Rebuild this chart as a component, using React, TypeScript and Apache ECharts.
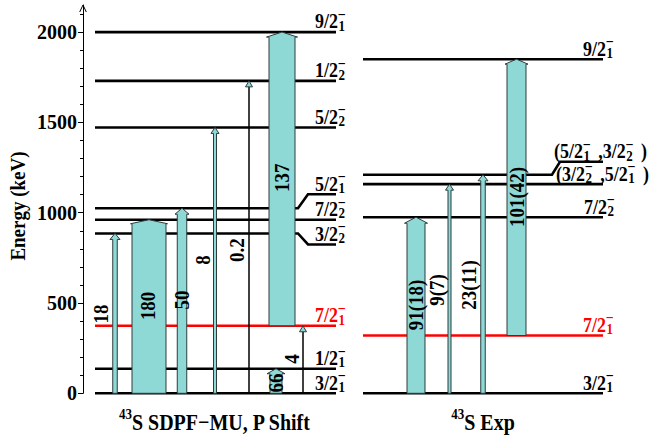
import React, { useEffect, useRef } from 'react';
import * as echarts from 'echarts';

// ---------------- data ----------------
const yTicks = [0, 500, 1000, 1500, 2000];

// theory panel (43S SDPF-MU, P shift)
const leftLevelEnergy = [0, 136, 374, 885, 961, 1025, 1472, 1730, 2000];
const leftLevelLabel = ['3/2_1', '1/2_1', '7/2_1', '3/2_2', '7/2_2', '5/2_1', '5/2_2', '1/2_2', '9/2_1'];
const leftBE2 = ['18', '180', '50', '8', '0.2', '137', '66', '4'];
const leftFrom = [0, 0, 0, 0, 0, 374, 0, 0];
const leftTo = [885, 961, 1025, 1472, 1730, 2000, 136, 374];

// experiment panel (43S Exp)
const rightLevelEnergy = [0, 320, 975, 1158, 1210, 1850];
const rightLevelLabel = ['3/2_1', '7/2_1', '7/2_2', '(3/2_2 ,5/2_1 )', '(5/2_1 ,3/2_2 )', '9/2_1'];
const rightBE2 = ['91(18)', '9(7)', '23(11)', '101(42)'];
const rightFrom = [0, 0, 0, 320];
const rightTo = [975, 1158, 1210, 1850];

const titleMass = '43';
const panelTitles = ['S SDPF−MU, P Shift', 'S Exp'];
const yTitle = 'Energy (keV)';

// ---------------- layout / style ----------------
const FF = 'Liberation Serif';
const TEAL = '#8ed8d6';
const EDGE = '#2c3c3c';
const panelX = [[95, 336], [363, 603]];
const elbowX = [[298, 308], [552, 560]];
const labelStart = [
  [315, 315, 315, 315, 315, 315, 315, 315, 315],
  [583, 583, 584, 556, 554, 583],
];
const levelShift = [
  [0, 0, 0, 11, 0, -14, 0, 0, 0],
  [0, 0, 0, 0, -13, 0],
];
const leftArrowLayout = [
  { x: 115, w: 4.5, headW: 10, headH: 6, kind: 'bar', lx: 101, le: 439 },
  { x: 149, w: 34, headW: 37, headH: 4, kind: 'bar', lx: 148, le: 484 },
  { x: 182, w: 9.5, headW: 14, headH: 6, kind: 'bar', lx: 182, le: 517 },
  { x: 215, w: 3, headW: 8, headH: 6, kind: 'bar', lx: 203, le: 738 },
  { x: 249, w: 1.5, headW: 7, headH: 6, kind: 'line', lx: 237, le: 793 },
  { x: 282, w: 26, headW: 31, headH: 5, kind: 'bar', lx: 282, le: 1193 },
  { x: 276, w: 12, headW: 18, headH: 5, kind: 'bar', lx: 276, le: 57 },
  { x: 303, w: 1.5, headW: 7, headH: 6, kind: 'line', lx: 292, le: 190 },
];
const rightArrowLayout = [
  { x: 416, w: 18, headW: 23, headH: 6, kind: 'bar', lx: 416, le: 489 },
  { x: 449.5, w: 3, headW: 8, headH: 6, kind: 'bar', lx: 437, le: 572 },
  { x: 483, w: 4.5, headW: 10, headH: 6, kind: 'bar', lx: 469, le: 600 },
  { x: 516.5, w: 19, headW: 23, headH: 5, kind: 'bar', lx: 516.5, le: 1087 },
];

const levelEnergy = [leftLevelEnergy, rightLevelEnergy];
const levelLabel = [leftLevelLabel, rightLevelLabel];
const arrowLabel = [leftBE2, rightBE2];
const arrowLayout = [leftArrowLayout, rightArrowLayout];

// ---------------- helpers ----------------
let measureCtx: CanvasRenderingContext2D | null = null;
function measure(text: string, size: number): number {
  if (!measureCtx) measureCtx = document.createElement('canvas').getContext('2d');
  measureCtx!.font = `bold ${size}px "${FF}"`;
  return measureCtx!.measureText(text).width;
}

function txtEl(text: string, x: number, y: number, size: number, color: string, opts: any = {}) {
  return {
    type: 'text',
    x,
    y,
    rotation: opts.rotation || 0,
    scaleY: opts.sy ?? 1.12,
    z2: 20,
    style: {
      text,
      x: 0,
      y: 0,
      fontFamily: FF,
      fontWeight: 'bold',
      fontSize: size,
      fill: color,
      align: opts.align || 'left',
      verticalAlign: 'middle',
    },
  };
}

function levelLabelEls(spec: string, x: number, yLine: number, color: string) {
  const parts = spec.split(/_(\d)/);
  const out: any[] = [];
  let cx = x;
  parts.forEach((p, k) => {
    if (k % 2 === 0) {
      if (!p) return;
      const lead = (p.match(/^ */) || [''])[0].length;
      cx += lead * measure(' ', 18) * 1.5;
      const t = p.trim();
      if (t) {
        out.push(txtEl(t, cx, yLine - 10.5, 18, color));
        cx += measure(t, 18);
      }
    } else {
      const w = measure(p, 13);
      out.push(txtEl(p, cx + 0.5, yLine - 6, 13, color));
      out.push(txtEl('−', cx + 0.5 + w / 2, yLine - 17.5, 14, color, { align: 'center' }));
      cx += w + 2;
    }
  });
  return out;
}

function titleEls(sup: string, main: string, cx: number, cy: number) {
  const supW = measure(sup, 13);
  const mainW = measure(main, 20);
  const x0 = cx - (supW + mainW) / 2;
  return [
    txtEl(sup, x0, cy - 8, 13, '#000', { sy: 1.1 }),
    txtEl(main, x0 + supW, cy, 20, '#000', { sy: 1.15 }),
  ];
}

function buildOption() {
  const levelData: number[][] = [];
  levelEnergy.forEach((arr, panel) => arr.forEach((E, i) => levelData.push([E, panel, i])));
  const arrowData: number[][] = [];
  [[leftFrom, leftTo], [rightFrom, rightTo]].forEach(([fr, to], panel) =>
    fr.forEach((f, i) => arrowData.push([f, to[i], panel, i]))
  );

  const renderLevel = (params: any, api: any) => {
    const E = api.value(0);
    const panel = api.value(1);
    const i = api.value(2);
    const p0 = api.coord([panelX[panel][0], E]);
    const p1 = api.coord([panelX[panel][1], E]);
    const y = p0[1];
    const shift = levelShift[panel][i];
    const spec = levelLabel[panel][i];
    const color = spec === '7/2_1' ? '#ff0000' : '#000000';
    let pts: number[][];
    if (shift) {
      const ea = api.coord([elbowX[panel][0], E])[0];
      const eb = api.coord([elbowX[panel][1], E])[0];
      pts = [[p0[0], y], [ea, y], [eb, y + shift], [p1[0], y + shift]];
    } else {
      pts = [[p0[0], y], [p1[0], y]];
    }
    const lx = api.coord([labelStart[panel][i], E])[0];
    return {
      type: 'group',
      children: [
        { type: 'polyline', shape: { points: pts }, style: { stroke: color, lineWidth: 2.6, fill: null } },
        ...levelLabelEls(spec, lx, y + shift, color),
      ],
    };
  };

  const renderArrow = (params: any, api: any) => {
    const from = api.value(0);
    const to = api.value(1);
    const panel = api.value(2);
    const i = api.value(3);
    const L: any = arrowLayout[panel][i];
    const pb = api.coord([L.x, from]);
    const pt = api.coord([L.x, to]);
    const xc = pb[0];
    const yb = pb[1];
    const yt = pt[1];
    const hw = L.w / 2;
    const hh = L.headW / 2;
    const ys = yt + L.headH;
    const children: any[] = [];
    if (L.kind === 'bar') {
      children.push({
        type: 'polygon',
        shape: {
          points: [
            [xc - hw, yb], [xc - hw, ys], [xc - hh, ys], [xc, yt],
            [xc + hh, ys], [xc + hw, ys], [xc + hw, yb],
          ],
        },
        style: { fill: TEAL, stroke: EDGE, lineWidth: 1 },
      });
    } else {
      children.push({
        type: 'line',
        shape: { x1: xc, y1: yb, x2: xc, y2: ys },
        style: { stroke: '#000', lineWidth: L.w },
      });
      children.push({
        type: 'polygon',
        shape: { points: [[xc - hh, ys], [xc, yt], [xc + hh, ys]] },
        style: { fill: TEAL, stroke: EDGE, lineWidth: 1 },
      });
    }
    const lp = api.coord([L.lx, L.le]);
    children.push(txtEl(arrowLabel[panel][i], lp[0], lp[1], 19, '#000', { rotation: Math.PI / 2, align: 'center' }));
    return { type: 'group', children };
  };

  const graphic: any[] = [
    {
      type: 'polyline',
      shape: { points: [[79.7, 12], [83, 5], [86.3, 12]] },
      style: { stroke: '#000', lineWidth: 1, fill: null },
    },
    txtEl(yTitle, 18, 206, 19, '#000', { rotation: Math.PI / 2, align: 'center', sy: 1.1 }),
    ...titleEls(titleMass, panelTitles[0], 215, 422.5),
    ...titleEls(titleMass, panelTitles[1], 483, 422.5),
  ];

  return {
    animation: false,
    backgroundColor: '#ffffff',
    grid: { left: 83, right: 0, top: 5, bottom: 45.7 },
    xAxis: { type: 'value', min: 83, max: 652, show: false },
    yAxis: {
      type: 'value',
      min: 0,
      max: 2150,
      interval: 500,
      axisLine: { show: true, lineStyle: { color: '#000', width: 1 } },
      axisTick: { show: true, length: 5, customValues: yTicks, lineStyle: { color: '#000', width: 1 } },
      minorTick: { show: true, splitNumber: 5, length: 3, lineStyle: { color: '#000', width: 1 } },
      splitLine: { show: false },
      minorSplitLine: { show: false },
      axisLabel: {
        customValues: yTicks,
        formatter: (v: number) => (yTicks.indexOf(v) >= 0 ? String(v) : ''),
        margin: 6,
        fontFamily: FF,
        fontWeight: 'bold',
        fontSize: 20,
        color: '#000',
      },
    },
    graphic,
    series: [
      {
        type: 'custom',
        name: 'levels',
        data: levelData,
        encode: { y: 0 },
        renderItem: renderLevel,
        clip: false,
        silent: true,
        z: 2,
      },
      {
        type: 'custom',
        name: 'transitions',
        data: arrowData,
        encode: { y: [0, 1] },
        renderItem: renderArrow,
        clip: false,
        silent: true,
        z: 3,
      },
    ],
  };
}

export default function App() {
  const ref = useRef<HTMLDivElement>(null);
  useEffect(() => {
    if (!ref.current) return;
    const chart = echarts.init(ref.current, null, { renderer: 'svg' });
    chart.setOption(buildOption() as any);
    return () => chart.dispose();
  }, []);
  return (
    <div
      ref={ref}
      style={{ position: 'fixed', left: 0, top: 0, width: 652, height: 439, background: '#fff' }}
    />
  );
}
